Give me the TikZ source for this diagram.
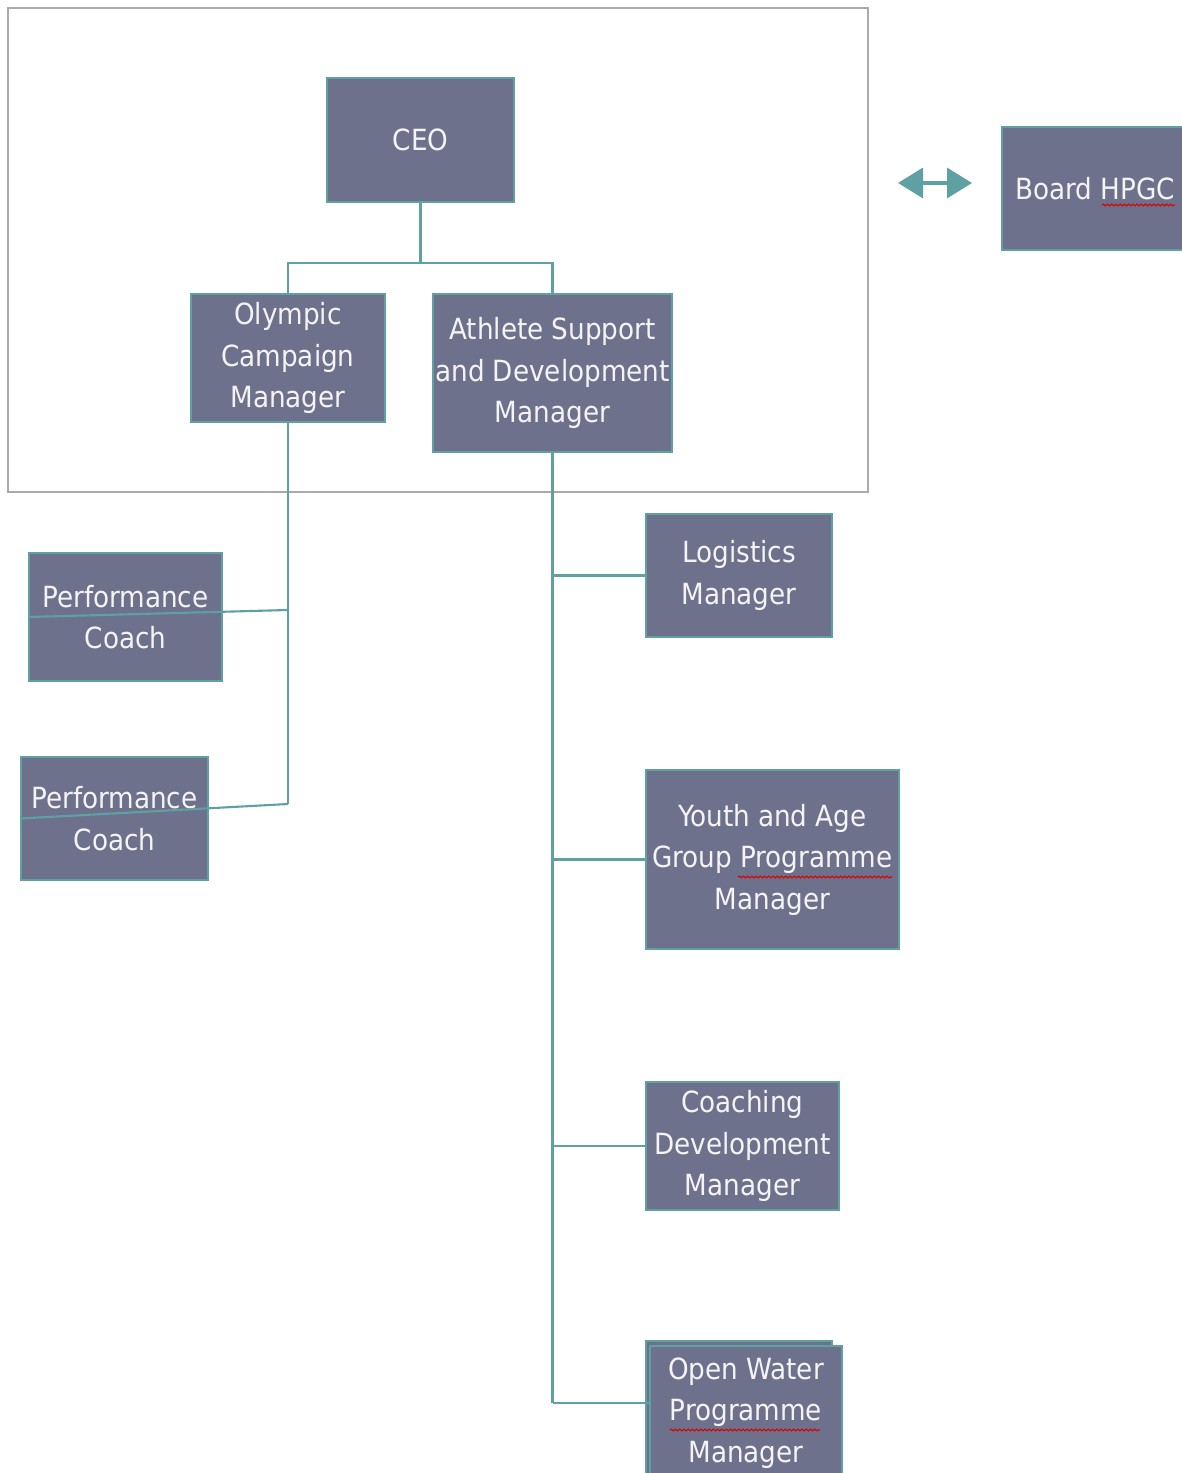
\documentclass[tikz,border=0pt]{standalone}
\usepackage{fontspec}
\setmainfont{DejaVu Sans Condensed}
\usetikzlibrary{arrows.meta,positioning,decorations.pathmorphing}
\definecolor{boxfill}{RGB}{110,113,140}
\definecolor{linecol}{RGB}{95,160,162}
\definecolor{framecol}{RGB}{170,170,170}
\begin{document}
\begin{tikzpicture}[x=0.02cm, y=-0.02cm,
  box/.style={draw=linecol, fill=boxfill, line width=1.1pt, align=center,
              text=white!92!boxfill, font=\fontsize{16.6}{23.6}\selectfont, inner sep=0pt},
  conn/.style={draw=linecol, line width=1.2pt},
  dblarr/.style={{Triangle[length=0.5cm,width=0.6cm]}-{Triangle[length=0.5cm,width=0.6cm]},
                 draw=linecol, fill=linecol, line width=2pt},
  spell/.style={draw=red!85!black, line width=0.6pt,
                decorate, decoration={snake, amplitude=0.5pt, segment length=2.4pt}},
]
\useasboundingbox (0,0) rectangle (1181,1473);
\fill[white] (0,0) rectangle (1181,1473);
% top frame
\draw[framecol, line width=1pt] (8,8) rectangle (868,492);
% top management
\node[box, minimum width=3.74cm, minimum height=2.48cm] (ceo) at (420.5,140) {CEO};
\node[box, minimum width=3.88cm, minimum height=2.56cm] (ocm) at (288,358) {Olympic\\Campaign\\Manager};
\node[box, minimum width=4.78cm, minimum height=3.16cm] (asd) at (552.5,373) {Athlete Support\\and Development\\Manager};
% board
\node[box, minimum width=3.72cm, minimum height=2.46cm] (board) at (1095,188.5) {Board HPGC};
\coordinate (al) at (898,183);
\coordinate (ar) at (972,183);
\draw[dblarr] (al) -- (ar);
% coaches
\node[box, minimum width=3.86cm, minimum height=2.56cm] (pc1) at (125.5,617) {Performance\\Coach};
\node[box, minimum width=3.74cm, minimum height=2.46cm] (pc2) at (114.5,818.5) {Performance\\Coach};
% athlete support team
\node[box, minimum width=3.72cm, minimum height=2.46cm] (log) at (739,575.5) {Logistics\\Manager};
\node[box, minimum width=5.06cm, minimum height=3.58cm] (yag) at (772.5,859.5) {Youth and Age\\Group Programme\\Manager};
\node[box, minimum width=3.86cm, minimum height=2.56cm] (cdm) at (742.5,1146) {Coaching\\Development\\Manager};
\draw[box] (646,1341) rectangle (832,1480);
\node[box, minimum width=3.84cm, minimum height=2.68cm] (owp) at (746,1413) {Open Water\\Programme\\Manager};
% connectors
\coordinate (ceob) at (420.5,263);
\draw[conn] (ceo.south) -- (ceob);
\draw[conn] (ceob) -| (ocm.north);
\draw[conn] (ceob) -| (asd.north);
\coordinate (oj1) at (288,610);
\coordinate (oj2) at (288,804);
\draw[conn] (ocm.south) -- (oj2);
\draw[conn] (oj1) -- (pc1.west);
\draw[conn] (oj2) -- (pc2.west);
\coordinate (aj) at (552.5,1403);
\draw[conn] (asd.south) -- (aj);
\draw[conn] (log.west) -- (log.west -| aj);
\draw[conn] (yag.west) -- (yag.west -| aj);
\draw[conn] (cdm.west) -- (cdm.west -| aj);
\draw[conn] (aj) -- (aj -| owp.west);
% spell check marks
\draw[spell] (1102,205) -- (1175,205);
\draw[spell] (738,877) -- (892,877);
\draw[spell] (670,1430) -- (820,1430);
\end{tikzpicture}
\end{document}
